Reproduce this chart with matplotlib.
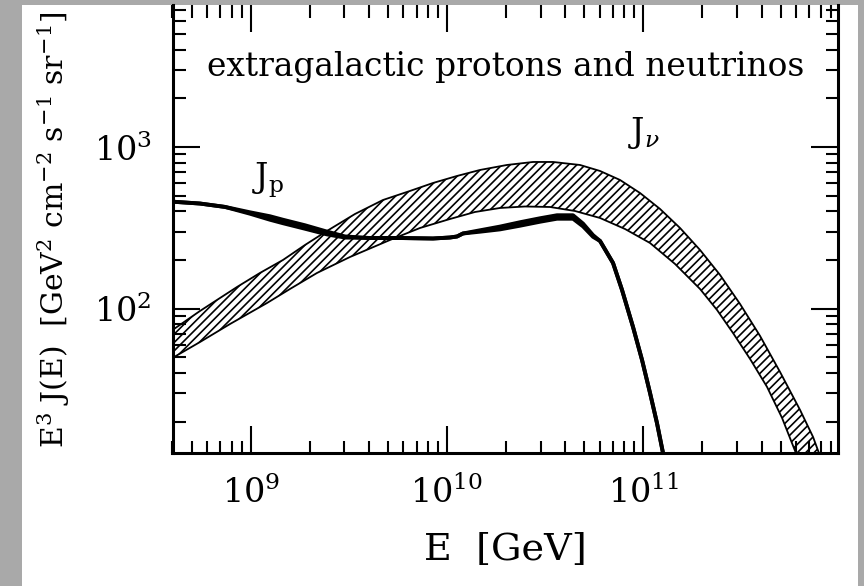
import matplotlib
matplotlib.use('Agg')
from matplotlib import pyplot as plt
from matplotlib.patches import Rectangle
from matplotlib.ticker import FixedLocator, LogLocator, NullFormatter, FixedFormatter

plt.rcParams['font.family'] = 'DejaVu Serif'
plt.rcParams['mathtext.fontset'] = 'dejavuserif'
plt.rcParams['hatch.linewidth'] = 1.2

# neutrino band: upper edge
nu_E_up = [4.0e8, 5.52e8, 8.52e8, 1.115e9, 1.461e9, 1.891e9, 2.447e9, 3.399e9,
           4.72e9, 6.479e9, 8.487e9, 1.125e10, 1.473e10, 2.022e10, 2.743e10,
           3.467e10, 4.76e10, 6.019e10, 7.609e10, 9.62e10, 1.217e11, 1.538e11,
           1.945e11, 2.46e11, 3.11e11, 3.932e11, 4.971e11, 6.29e11, 7.32e11,
           8.1e11]
nu_J_up = [73.8, 96.8, 136.2, 166.3, 200.1, 247.7, 302.4, 385.1, 470.1, 534.6,
           598.9, 661.9, 720.9, 774.2, 807.9, 808, 774, 710.6, 625.2, 519.4,
           413.6, 315.6, 230.7, 161.6, 106.9, 67.8, 40.6, 23.6, 16.1, 11.5]
# neutrino band: lower edge
nu_E_lo = [4.0e8, 5.52e8, 7.85e8, 1.211e9, 1.586e9, 2.177e9, 3.206e9, 5.123e9,
           7.287e9, 1.036e10, 1.389e10, 1.862e10, 2.496e10, 3.348e10, 4.489e10,
           6.019e10, 8.067e10, 1.082e11, 1.451e11, 1.945e11, 2.374e11, 2.864e11,
           3.497e11, 4.269e11, 5.09e11, 6.2e11]
nu_J_lo = [49.6, 62.2, 80.4, 108.4, 132.4, 166.3, 208.8, 266.0, 315.6, 358.7,
           396.3, 419.6, 428.6, 425.6, 401.9, 363.9, 311.1, 254.8, 189.0, 132.4,
           98.2, 70.7, 48.9, 32.8, 21.1, 11.5]

# protons (thin black band, lower / upper edge)
p_E = [4.0e8, 5.52e8, 7.4e8, 9.92e8, 1.254e9, 1.461e9, 1.891e9, 2.447e9,
       3.023e9, 4.054e9, 5.763e9, 8.487e9, 1.036e10, 1.125e10, 1.206e10,
       1.473e10, 1.862e10, 2.355e10, 2.977e10, 3.634e10, 4.385e10, 4.931e10,
       5.545e10, 6.019e10, 7.011e10, 7.79e10, 8.862e10, 9.85e10, 1.082e11,
       1.174e11, 1.26e11, 1.29e11]
p_J_lo = [459, 447, 426, 386.8, 355.0, 337.8, 312.3, 288.1, 275.4, 273.6,
          273.6, 271.7, 275.6, 279.6, 291.8, 299.4, 309.4, 326.0, 345.0, 360.1,
          360.1, 322.9, 278.3, 262.3, 191.7, 130.6, 77.1, 48.2, 30.1, 19.6,
          12.8, 10.8]
p_J_hi = [459, 447, 426, 394.6, 373.0, 354.9, 328.1, 299.8, 279.8, 273.6,
          273.6, 271.7, 275.6, 279.6, 291.8, 305.4, 321.9, 342.5, 362.4, 378.3,
          378.3, 336.0, 285.0, 262.3, 191.7, 130.6, 77.1, 48.2, 30.1, 19.6,
          12.8, 10.8]

x_ticks = [1e9, 1e10, 1e11]
x_ticklabels = [r'$10^{9}$', r'$10^{10}$', r'$10^{11}$']
y_ticks = [1e2, 1e3]
y_ticklabels = [r'$10^{2}$', r'$10^{3}$']

W, H = 864, 586
fig = plt.figure(figsize=(W / 100, H / 100), dpi=100, facecolor='#a9a9a9')
fig.patches.append(Rectangle((22 / W, 0), (858 - 22) / W, 1 - 5 / H,
                             transform=fig.transFigure, facecolor='white',
                             edgecolor='none', zorder=-1))

ax = fig.add_axes([172.5 / W, 1 - 452.7 / H, (837.7 - 172.5) / W, (452.7 - 5) / H])
ax.set_xscale('log')
ax.set_yscale('log')

# hatched band
xs = nu_E_up + nu_E_lo[::-1]
ys = nu_J_up + nu_J_lo[::-1]
ax.fill(xs, ys, facecolor='white', edgecolor='black', hatch='////', lw=1.3)

# proton curve
ax.fill_between(p_E, p_J_lo, p_J_hi, color='black', lw=0)
ax.plot(p_E, p_J_lo, color='black', lw=2.8)
ax.plot(p_E, p_J_hi, color='black', lw=2.8)

ax.set_xlim(4e8, 10 ** 11.99)
ax.set_ylim(12.87, 10 ** 3.878)

ax.xaxis.set_major_locator(FixedLocator(x_ticks))
ax.xaxis.set_major_formatter(FixedFormatter(x_ticklabels))
ax.yaxis.set_major_locator(FixedLocator(y_ticks))
ax.yaxis.set_major_formatter(FixedFormatter(y_ticklabels))
ax.xaxis.set_minor_locator(LogLocator(base=10, subs=range(2, 10), numticks=20))
ax.yaxis.set_minor_locator(LogLocator(base=10, subs=range(2, 10), numticks=20))
ax.xaxis.set_minor_formatter(NullFormatter())
ax.yaxis.set_minor_formatter(NullFormatter())

ax.tick_params(which='both', direction='in', top=True, right=True, width=1.5)
ax.tick_params(which='major', length=19.5, labelsize=24)
ax.tick_params(axis='x', which='major', pad=17)
ax.tick_params(axis='y', which='major', pad=15)
ax.tick_params(which='minor', length=9)
for s in ax.spines.values():
    s.set_linewidth(2.2)
ax.spines['top'].set_visible(False)

fig.text(506 / W, 1 - 67 / H, 'extragalactic protons and neutrinos',
         ha='center', va='center', fontsize=23.7)
fig.text(252 / W, 1 - 188 / H, r'J$_{\rm p}$', ha='left', va='baseline', fontsize=24)
fig.text(628 / W, 1 - 142 / H, r'J$_\nu$', ha='left', va='baseline', fontsize=24)
fig.text(505 / W, 1 - 550 / H, 'E  [GeV]', ha='center', va='center', fontsize=27.5)
fig.text(54 / W, 1 - 230 / H,
         r'E$^3$ J(E)  [GeV$^2$ cm$^{-2}$ s$^{-1}$ sr$^{-1}$]',
         ha='center', va='center', rotation=90, fontsize=21.5)

plt.savefig('out.png', dpi=100, facecolor=fig.get_facecolor())
